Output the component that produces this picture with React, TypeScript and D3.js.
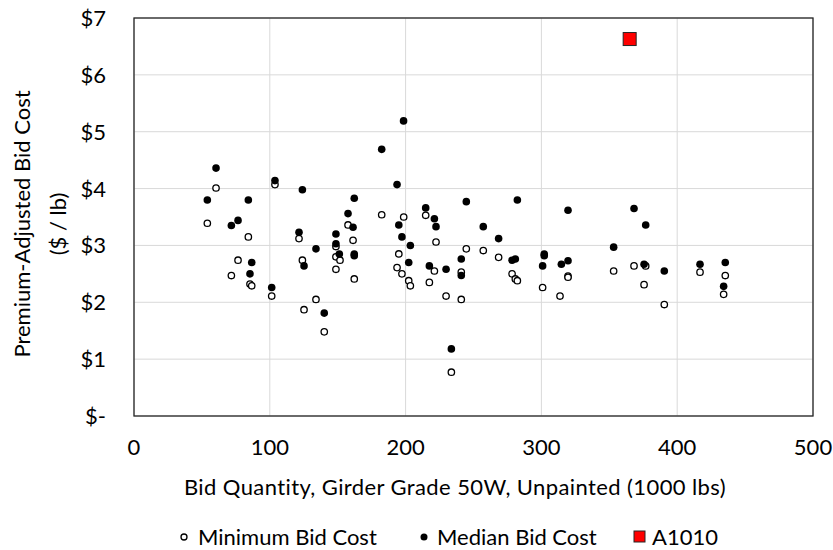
import React from 'react';
import * as d3 from 'd3';

// [bid quantity (1000 lbs), $/lb]
const minimumBidCost: [number, number][] = [
    [54, 3.39], [60.4, 4.01], [71.7, 2.47], [76.6, 2.74], [84.2, 3.15], [85.4, 2.32], [86.7, 2.29],
    [101.4, 2.11], [103.8, 4.07], [121.5, 3.12], [124, 2.74], [125.2, 1.87], [134, 2.05], [140.1, 1.48],
    [148.7, 2.98], [148.7, 2.8], [148.7, 2.58], [151.7, 2.74], [161.3, 3.09], [157.6, 3.36], [162.2, 2.41],
    [182.4, 3.54], [198.6, 3.5], [195, 2.85], [193.7, 2.61], [197.3, 2.5], [202.3, 2.38], [203.5, 2.29],
    [214.8, 3.53], [222.4, 3.06], [221.2, 2.55], [217.5, 2.35], [229.8, 2.11], [233.7, 0.77],
    [244.7, 2.94], [241, 2.53], [241, 2.05], [257.2, 2.91], [268.5, 2.79], [278.4, 2.5], [280.8, 2.41],
    [282.3, 2.38], [300.9, 2.26], [313.7, 2.11], [319.6, 2.46], [319.6, 2.44], [353.2, 2.55],
    [368.2, 2.64], [376.8, 2.64], [375.6, 2.31], [390.5, 1.96], [416.8, 2.53], [435.4, 2.47], [434.2, 2.14],
];

const medianBidCost: [number, number][] = [
    [54, 3.8], [60.4, 4.36], [71.7, 3.35], [76.6, 3.44], [84.2, 3.8], [86.7, 2.7], [85.4, 2.5],
    [101.4, 2.26], [103.8, 4.14], [121.5, 3.23], [124, 3.98], [125.2, 2.64], [134, 2.94], [140.1, 1.81],
    [148.7, 3.2], [148.7, 3.03], [151.2, 2.85], [157.6, 3.56], [161.3, 3.32], [162.2, 3.83], [162.2, 2.85],
    [162.2, 2.82], [182.4, 4.69], [193.7, 4.07], [195, 3.36], [197.3, 3.15], [198.5, 5.19], [203.5, 3.0],
    [202.3, 2.7], [214.8, 3.66], [221.2, 3.47], [222.4, 3.33], [217.5, 2.64], [229.8, 2.58], [233.7, 1.18],
    [244.7, 3.77], [241, 2.76], [241, 2.47], [257.2, 3.33], [268.5, 3.12], [282.3, 3.8], [278.4, 2.74],
    [280.8, 2.76], [302.1, 2.85], [302.1, 2.82], [300.9, 2.64], [319.6, 3.62], [314.7, 2.67], [319.6, 2.73],
    [353.2, 2.97], [368.2, 3.65], [376.8, 3.36], [375.6, 2.67], [390.5, 2.55], [416.8, 2.67], [435.4, 2.7],
    [434.2, 2.28],
];

const a1010: [number, number][] = [[365, 6.63]];

const xTicks = [0, 100, 200, 300, 400, 500];
const yTicks = [0, 1, 2, 3, 4, 5, 6, 7];

const FONT = 'Lato, "Open Sans", sans-serif';
const FS = 22;

const App: React.FC = () => {
    const width = 833;
    const height = 550;

    const x = d3.scaleLinear().domain([0, 500]).range([134, 813]);
    const y = d3.scaleLinear().domain([0, 7]).range([416, 18]);

    const fmtY = (v: number) => (v === 0 ? '$-' : `$${v}`);

    return (
        <svg width={width} height={height} style={{ position: 'absolute', left: 0, top: 0, background: '#fff' }}>
            {/* gridlines */}
            {yTicks.map(t => (
                <line key={'gy' + t} x1={x(0)} x2={x(500)} y1={y(t)} y2={y(t)} stroke="#d9d9d9" strokeWidth={1} />
            ))}
            {xTicks.map(t => (
                <line key={'gx' + t} x1={x(t)} x2={x(t)} y1={y(0)} y2={y(7)} stroke="#d9d9d9" strokeWidth={1} />
            ))}
            <rect x={x(0)} y={y(7)} width={x(500) - x(0)} height={y(0) - y(7)} fill="none" stroke="#262626" strokeWidth={1.3} />

            {/* tick labels */}
            {yTicks.map(t => (
                <text key={'ty' + t} x={106} y={y(t) + 8} textAnchor="end" fontFamily={FONT} fontSize={FS} fill="#000">
                    {fmtY(t)}
                </text>
            ))}
            {xTicks.map(t => (
                <text key={'tx' + t} x={x(t)} y={455} textAnchor="middle" fontFamily={FONT} fontSize={FS} fill="#000">
                    {t}
                </text>
            ))}

            {/* axis titles */}
            <text x={455} y={495} textAnchor="middle" fontFamily={FONT} fontSize={FS} fill="#000" letterSpacing={0.4}>
                Bid Quantity, Girder Grade 50W,  Unpainted (1000 lbs)
            </text>
            <g transform="rotate(-90)">
                <text x={-224} y={30} textAnchor="middle" fontFamily={FONT} fontSize={FS} fill="#000">
                    Premium-Adjusted Bid Cost
                </text>
                <text x={-224} y={66} textAnchor="middle" fontFamily={FONT} fontSize={FS} fill="#000">
                    ($ / lb)
                </text>
            </g>

            {/* series */}
            {minimumBidCost.map((d, i) => (
                <circle key={'mn' + i} cx={x(d[0])} cy={y(d[1])} r={3.2} fill="#fff" stroke="#000" strokeWidth={1.3} />
            ))}
            {medianBidCost.map((d, i) => (
                <circle key={'md' + i} cx={x(d[0])} cy={y(d[1])} r={3.8} fill="#000" />
            ))}
            {a1010.map((d, i) => (
                <rect key={'a' + i} x={x(d[0]) - 6.5} y={y(d[1]) - 6.5} width={13} height={13} fill="#ff0000" stroke="#262626" strokeWidth={1} />
            ))}

            {/* legend */}
            <circle cx={184} cy={537} r={3} fill="#fff" stroke="#000" strokeWidth={1.3} />
            <text x={198} y={545} fontFamily={FONT} fontSize={FS} fill="#000">Minimum Bid Cost</text>
            <circle cx={424} cy={537} r={3.5} fill="#000" />
            <text x={437} y={545} fontFamily={FONT} fontSize={FS} fill="#000">Median Bid Cost</text>
            <rect x={634} y={531} width={11} height={11} fill="#ff0000" stroke="#262626" strokeWidth={1} />
            <text x={652} y={545} fontFamily={FONT} fontSize={FS} fill="#000">A1010</text>
        </svg>
    );
};

export default App;
